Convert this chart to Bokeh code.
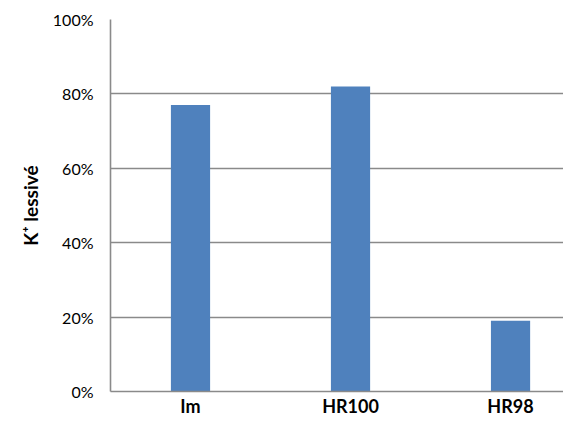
from bokeh.plotting import figure
from bokeh.models import Range1d, NumeralTickFormatter, FixedTicker, Title
from bokeh.embed import file_html
from bokeh.resources import INLINE

categories = ["Im", "HR100", "HR98"]
values = [0.77, 0.82, 0.19]
y_ticks = [0, 0.2, 0.4, 0.6, 0.8, 1.0]
y_title = "K\u207a lessivé"

xs = list(range(len(categories)))

W, H = 563, 419
p = figure(width=W, height=H, output_backend="svg", toolbar_location=None,
           x_range=Range1d(-0.5, 2.331), y_range=Range1d(0, 1.0),
           min_border_left=110, min_border_top=19, min_border_bottom=0, min_border_right=0)

p.vbar(x=xs, top=values, width=0.245, fill_color="#4f81bd", line_color=None)

grid_col = "#8a8a8a"
p.outline_line_color = None
p.xgrid.grid_line_color = None
p.ygrid.grid_line_color = grid_col
p.ygrid.grid_line_width = 1.6
p.yaxis.ticker = FixedTicker(ticks=y_ticks)
p.yaxis.formatter = NumeralTickFormatter(format="0%")
p.yaxis.axis_line_color = grid_col
p.yaxis.axis_line_width = 1.6
p.yaxis.major_tick_line_color = None
p.yaxis.major_tick_out = 0
p.yaxis.major_tick_in = 0
p.yaxis.minor_tick_line_color = None
p.yaxis.major_label_text_font = "Lato"
p.yaxis.major_label_text_font_size = "16px"
p.yaxis.major_label_text_color = "#000000"
p.yaxis.major_label_standoff = 17

p.xaxis.ticker = FixedTicker(ticks=xs)
p.xaxis.major_label_overrides = {i: c for i, c in enumerate(categories)}
p.xaxis.axis_line_color = grid_col
p.xaxis.axis_line_width = 1.6
p.xaxis.major_tick_line_color = None
p.xaxis.major_tick_out = 0
p.xaxis.major_tick_in = 0
p.xaxis.minor_tick_line_color = None
p.xaxis.major_label_text_font = "Lato"
p.xaxis.major_label_text_font_style = "bold"
p.xaxis.major_label_text_font_size = "18px"
p.xaxis.major_label_text_color = "#000000"
p.xaxis.major_label_standoff = 3

title = Title(text=y_title, align="center", offset=38, standoff=15,
              text_font="Lato", text_font_style="bold", text_font_size="19px",
              text_color="#000000")
p.add_layout(title, "left")

open("out.html", "w").write(file_html(p, INLINE))
